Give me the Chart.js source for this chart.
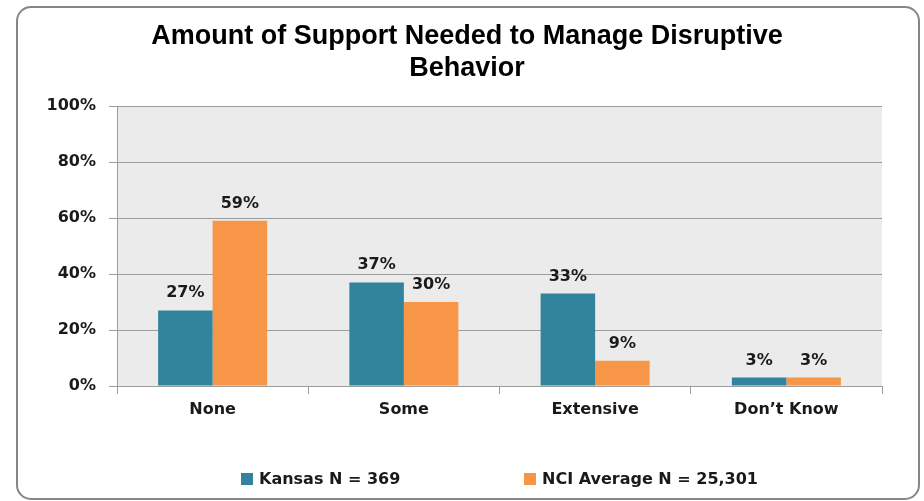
<!DOCTYPE html>
<html>
<head>
<meta charset="utf-8">
<script src="https://cdn.jsdelivr.net/npm/chart.js@4.4.0/dist/chart.umd.min.js"></script>
<style>
  html, body { margin: 0; padding: 0; background: #fff; }
  #wrap { width: 924px; height: 501px; position: relative; }
</style>
</head>
<body>
<div id="wrap"><canvas id="supportChart" width="924" height="501"></canvas></div>
<script>
const titleLines = ["Amount of Support Needed to Manage Disruptive", "Behavior"];
const categories = ["None", "Some", "Extensive", "Don\u2019t Know"];
const kansasValues = [27, 37, 33, 3];
const nciValues = [59, 30, 9, 3];
const seriesNames = ["Kansas N = 369", "NCI Average N = 25,301"];
const yTicks = [0, 20, 40, 60, 80, 100];

const TEAL = "#31849b";
const ORANGE = "#f79646";
const GRID = "#9c9c9c";
const TEXT = "#1a1a1a";
const LABEL_FONT = "bold 16px 'DejaVu Sans'";

// white card with rounded grey border + grey plot background
const frame = {
  id: "frame",
  beforeDraw(chart) {
    const ctx = chart.ctx;
    const a = chart.chartArea;
    ctx.save();
    ctx.fillStyle = "#fff";
    ctx.fillRect(0, 0, chart.width, chart.height);
    ctx.beginPath();
    ctx.roundRect(17, 7, 902, 492, 14);
    ctx.lineWidth = 2;
    ctx.strokeStyle = "#868686";
    ctx.stroke();
    ctx.fillStyle = "#ebebeb";
    ctx.fillRect(a.left, a.top, a.right - a.left, a.bottom - a.top);
    ctx.restore();
  }
};

// title sits a bit right of the canvas centre in the original
const titleText = {
  id: "titleText",
  afterDraw(chart) {
    const ctx = chart.ctx;
    ctx.save();
    ctx.font = "bold 27px 'Liberation Sans'";
    ctx.fillStyle = "#000";
    ctx.textAlign = "center";
    ctx.textBaseline = "middle";
    titleLines.forEach((line, i) => ctx.fillText(line, 467, 37 + i * 32));
    ctx.restore();
  }
};

// percent labels over each bar
const barLabels = {
  id: "barLabels",
  afterDatasetsDraw(chart) {
    const ctx = chart.ctx;
    ctx.save();
    ctx.font = LABEL_FONT;
    ctx.fillStyle = TEXT;
    ctx.textAlign = "center";
    ctx.textBaseline = "alphabetic";
    chart.data.datasets.forEach((ds, i) => {
      chart.getDatasetMeta(i).data.forEach((bar, j) => {
        ctx.fillText(ds.data[j] + "%", bar.x, bar.y - 13);
      });
    });
    ctx.restore();
  }
};

// legend drawn by hand so the wide item spacing can match
const bottomLegend = {
  id: "bottomLegend",
  afterDraw(chart) {
    const ctx = chart.ctx;
    const starts = [241, 524];
    const y = 479;
    ctx.save();
    ctx.font = LABEL_FONT;
    ctx.textBaseline = "middle";
    ctx.textAlign = "left";
    chart.data.datasets.forEach((ds, i) => {
      ctx.fillStyle = ds.backgroundColor;
      ctx.fillRect(starts[i], y - 6, 12, 12);
      ctx.fillStyle = TEXT;
      ctx.fillText(ds.label, starts[i] + 18, y + 1);
    });
    ctx.restore();
  }
};

new Chart(document.getElementById("supportChart"), {
  type: "bar",
  data: {
    labels: categories,
    datasets: [
      { label: seriesNames[0], data: kansasValues, backgroundColor: TEAL },
      { label: seriesNames[1], data: nciValues, backgroundColor: ORANGE }
    ]
  },
  options: {
    responsive: false,
    animation: false,
    devicePixelRatio: 1,
    layout: { padding: { left: 17, right: 42, top: 106, bottom: 65 } },
    datasets: { bar: { categoryPercentage: 0.57, barPercentage: 1 } },
    plugins: {
      legend: { display: false },
      tooltip: { enabled: false },
      title: { display: false }
    },
    scales: {
      x: {
        grid: { display: true, drawOnChartArea: false, offset: true, tickLength: 8, color: GRID },
        border: { color: GRID },
        ticks: { color: TEXT, font: { family: "'DejaVu Sans'", size: 16, weight: "bold" }, padding: 6 },
        afterFit(s) { s.height = 50; }
      },
      y: {
        min: 0,
        max: 100,
        afterBuildTicks(s) { s.ticks = yTicks.map(v => ({ value: v })); },
        grid: { color: GRID, tickLength: 8 },
        border: { color: GRID },
        ticks: {
          color: TEXT,
          padding: 13,
          font: { family: "'DejaVu Sans'", size: 16, weight: "bold" },
          callback: v => v + "%"
        },
        afterFit(s) { s.width = 100; }
      }
    }
  },
  plugins: [frame, titleText, barLabels, bottomLegend]
});
</script>
</body>
</html>
